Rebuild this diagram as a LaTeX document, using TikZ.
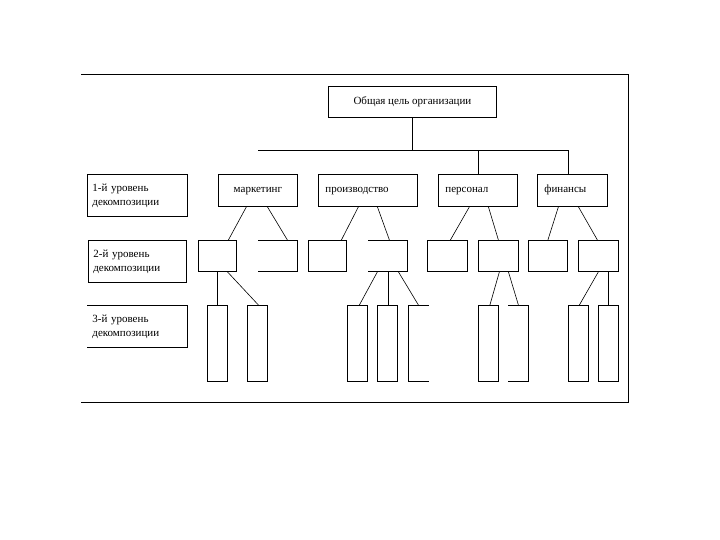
\documentclass[tikz,border=0pt]{standalone}
\usepackage{fontspec}
\setmainfont{Liberation Serif}
\begin{document}
\begin{tikzpicture}[x=1pt, y=-1pt,
    box/.style={draw, line width=0.8pt, anchor=north west, inner sep=0pt, font=\fontsize{11}{14}\selectfont},
    openbox/.style={box, draw=none},
    lvl/.style={box, text width=90, inner xsep=5pt, align=left, minimum height=42},
    topic/.style={box, minimum height=32, inner xsep=7pt, align=left, text height=9pt, text depth=4pt},
    sub/.style={box, minimum height=31},
    leaf/.style={box, minimum width=20, minimum height=76},
    link/.style={line width=0.6pt},
    side/.style={line width=0.8pt}]
    \useasboundingbox (0,0) rectangle (720,540);
    \draw[line width=1pt] (81,75) -- (628,75) -- (628,402) -- (81,402);

    % --- goal ---
    \node[box, minimum width=168, minimum height=31] (goal) at (328,86) {Общая цель организации};

    % --- level labels ---
    \node[lvl] (lvlA) at (87,174) {1-й уровень\\декомпозиции};
    \node[lvl, text width=88] (lvlB) at (88,240) {2-й уровень\\декомпозиции};
    \node[lvl, draw=none] (lvlC) at (87,305) {3-й уровень\\декомпозиции};
    \draw[side] (lvlC.north west) -- (lvlC.north east) -- (lvlC.south east) -- (lvlC.south west);

    % --- level 1 ---
    \node[topic, text width=65, align=center] (mark) at (218,174) {маркетинг};
    \node[topic, text width=85] (prod) at (318,174) {производство};
    \node[topic, text width=65] (pers) at (438,174) {персонал};
    \node[topic, text width=56] (fin) at (537,174) {финансы};

    \coordinate (barL) at (258,150);
    \draw[side] (goal.south) -- (goal.south |- barL);
    \draw[side] (barL) -| ([xshift=-4]fin.north);
    \draw[side] (pers.north) -- (pers.north |- barL);

    % --- level 2 ---
    \node[sub, minimum width=38] (a1) at (198,240) {};
    \node[openbox, minimum width=39, minimum height=31] (a2) at (258,240) {};
    \node[sub, minimum width=38] (b1) at (308,240) {};
    \node[openbox, minimum width=39, minimum height=31] (b2) at (368,240) {};
    \node[sub, minimum width=40] (c1) at (427,240) {};
    \node[sub, minimum width=40] (c2) at (478,240) {};
    \node[sub, minimum width=39] (d1) at (528,240) {};
    \node[sub, minimum width=40] (d2) at (578,240) {};
    \draw[side] (a2.north west) -- (a2.north east) -- (a2.south east) -- (a2.south west);
    \draw[side] (b2.north west) -- (b2.north east) -- (b2.south east) -- (b2.south west);

    \draw[link] ([xshift=-11.5]mark.south) -- ([xshift=11]a1.north);
    \draw[link] ([xshift=9.5]mark.south) -- ([xshift=9.5]a2.north);
    \draw[link] ([xshift=-9.5]prod.south) -- ([xshift=14]b1.north);
    \draw[link] ([xshift=9.5]prod.south) -- ([xshift=1.5]b2.north);
    \draw[link] ([xshift=-8.5]pers.south) -- ([xshift=3]c1.north);
    \draw[link] ([xshift=10.5]pers.south) -- (c2.north);
    \draw[link] ([xshift=-14]fin.south) -- (d1.north);
    \draw[link] ([xshift=6]fin.south) -- ([xshift=-1]d2.north);

    % --- level 3 ---
    \node[leaf] (r1) at (207,305) {};
    \node[leaf] (r2) at (247,305) {};
    \node[leaf] (r3) at (347,305) {};
    \node[leaf] (r4) at (377,305) {};
    \node[openbox, minimum width=20, minimum height=76] (r5) at (408,305) {};
    \node[leaf] (r6) at (478,305) {};
    \node[openbox, minimum width=20, minimum height=76] (r7) at (508,305) {};
    \node[leaf] (r8) at (568,305) {};
    \node[leaf] (r9) at (598,305) {};
    \draw[side] (r5.north east) -- (r5.north west) -- (r5.south west) -- (r5.south east);
    \draw[side] (r7.north west) -- (r7.north east) -- (r7.south east) -- (r7.south west);

    \draw[side] (a1.south) -- (r1.north);
    \draw[link] ([xshift=10]a1.south) -- ([xshift=1]r2.north);
    \draw[link] ([xshift=-10.5]b2.south) -- ([xshift=2]r3.north);
    \draw[side] (b2.south) -- (b2.south |- r4.north);
    \draw[link] ([xshift=10.5]b2.south) -- (r5.north);
    \draw[link] ([xshift=1]c2.south) -- ([xshift=1.5]r6.north);
    \draw[link] ([xshift=10]c2.south) -- (r7.north);
    \draw[link] (d2.south) -- ([xshift=1]r8.north);
    \draw[side] ([xshift=10]d2.south) -- (r9.north);
\end{tikzpicture}
\end{document}
